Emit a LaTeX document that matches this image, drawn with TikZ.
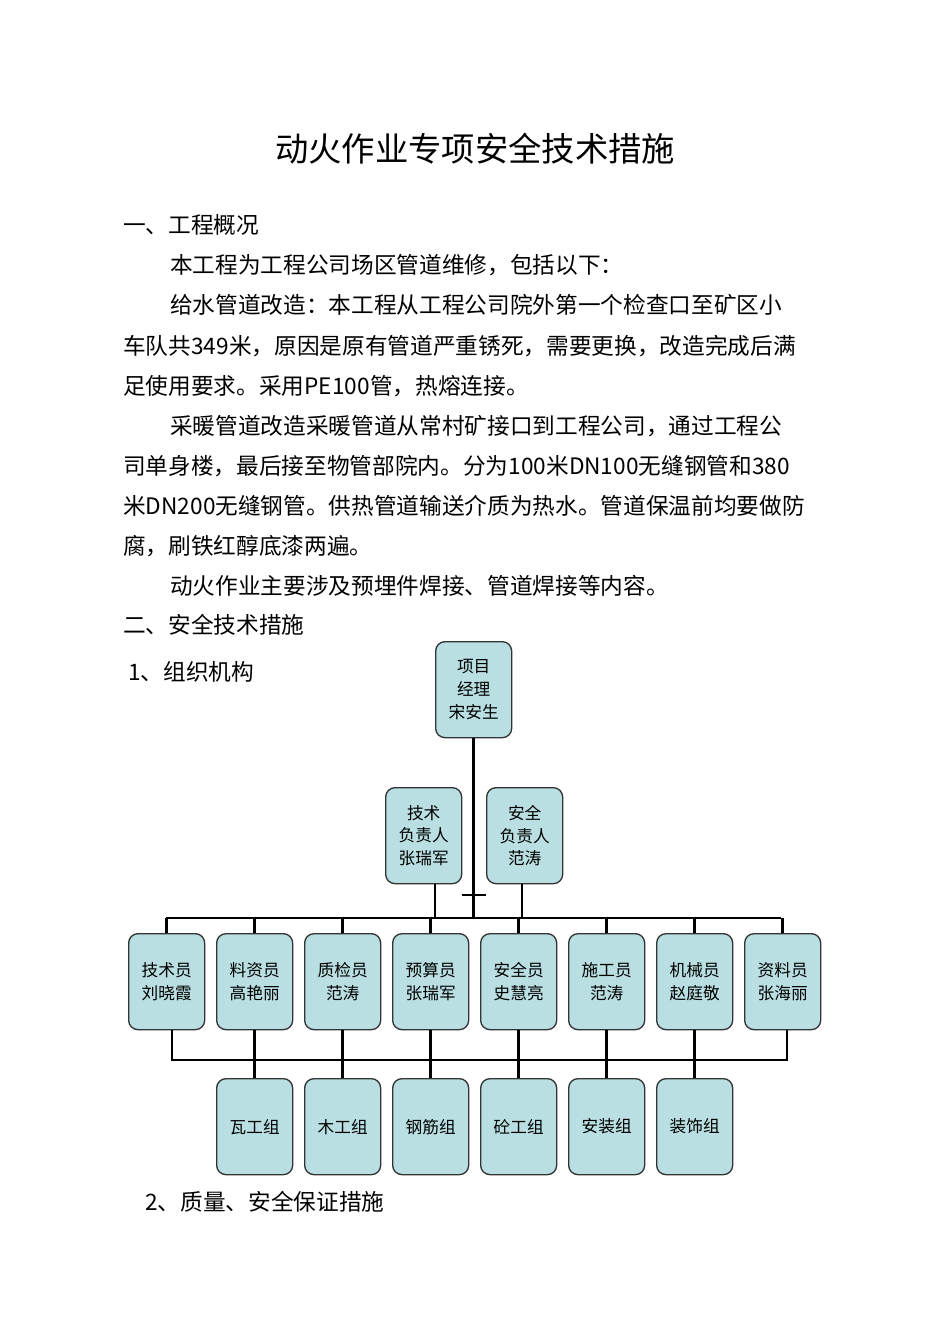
\documentclass[tikz,border=0pt]{standalone}
\usepackage{fontspec}
\setmainfont{Noto Sans CJK SC}
\begin{document}
\begin{tikzpicture}[x=0.75pt,y=-0.75pt,
 box/.style={draw=black!80,line width=1pt,fill=boxc,rounded corners=7pt,minimum width=57pt,minimum height=72pt,inner sep=1pt,align=center,font=\fontsize{12.5}{17}\selectfont,anchor=north west},
 body/.style={anchor=base west,inner sep=0pt,font=\fontsize{17}{20}\selectfont},
 thick line/.style={line width=2.2pt},
 thin line/.style={line width=0.8pt}]
\definecolor{boxc}{HTML}{B9DFE2}
\useasboundingbox (0,0) rectangle (950,1344);
\node[anchor=base,inner sep=0pt,font=\fontsize{25}{28}\selectfont] (title) at (475,162) {动火作业专项安全技术措施};
\node[body] (l1) at (123,234) {一、工程概况};
\node[body] (l2) at (170,274) {本工程为工程公司场区管道维修，包括以下：};
\node[body] (l3) at (170,314) {给水管道改造：本工程从工程公司院外第一个检查口至矿区小};
\node[body] (l4) at (123,354) {车队共349米，原因是原有管道严重锈死，需要更换，改造完成后满};
\node[body] (l5) at (123,394) {足使用要求。采用PE100管，热熔连接。};
\node[body] (l6) at (170,434) {采暖管道改造采暖管道从常村矿接口到工程公司，通过工程公};
\node[body] (l7) at (123,474) {司单身楼，最后接至物管部院内。分为100米DN100无缝钢管和380};
\node[body] (l8) at (123,514) {米DN200无缝钢管。供热管道输送介质为热水。管道保温前均要做防};
\node[body] (l9) at (123,554) {腐，刷铁红醇底漆两遍。};
\node[body] (l10) at (170,594) {动火作业主要涉及预埋件焊接、管道焊接等内容。};
\node[body] (l11) at (123,633) {二、安全技术措施};
\node[body] (l12) at (128,680) {1、组织机构};
\node[body] (l13) at (145,1210) {2、质量、安全保证措施};
% boxes
\node[box] (pm) at (435,641) {项目\\经理\\宋安生};
\node[box] (tech) at (385,787) {技术\\负责人\\张瑞军};
\node[box] (safe) at (486,787) {安全\\负责人\\范涛};
\foreach \i/\t in {0/技术员\\刘晓霞,1/料资员\\高艳丽,2/质检员\\范涛,3/预算员\\张瑞军,4/安全员\\史慧亮,5/施工员\\范涛,6/机械员\\赵庭敬,7/资料员\\张海丽}
  \node[box] (r\i) at (128+88*\i,933) {\t};
\foreach \i/\t in {1/瓦工组,2/木工组,3/钢筋组,4/砼工组,5/安装组,6/装饰组}
  \node[box] (b\i) at (128+88*\i,1078) {\t};
% connectors
\coordinate (busL) at (166,918);
\coordinate (busR) at (781,918);
\coordinate (trunk) at (473,918);
\draw[thick line] (pm.south) -- (pm.south|-trunk);
\draw[thick line] (busL) -- (busR);
\draw[thick line] (tech.east|-0,895) -- (safe.west|-0,895);
\draw[thin line] (tech.south-|435,0) -- (435,918);
\draw[thick line] (safe.south-|522,0) -- (522,918);
\foreach \i in {0,...,7} \draw[thick line] (r\i.north|-busL) -- (r\i.north);
\foreach \i in {1,...,6} \draw[thick line] (r\i.south) -- (b\i.north);
\coordinate (lbL) at (172,1060);
\coordinate (lbR) at (787,1060);
\draw[thin line] (r0.south-|lbL) -- (lbL) -- (lbR) -- (r7.south-|lbR);
\end{tikzpicture}
\end{document}
